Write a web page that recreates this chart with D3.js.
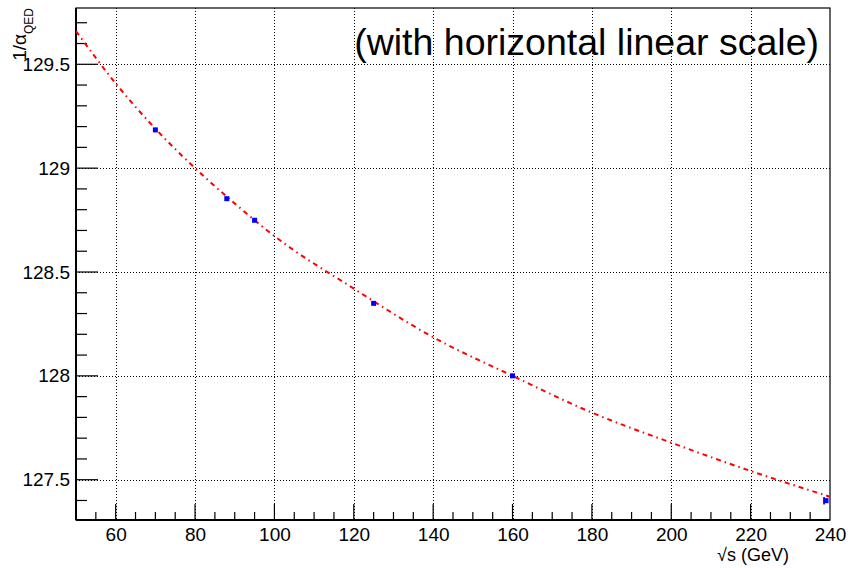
<!DOCTYPE html>
<html>
<head>
<meta charset="utf-8">
<script src="https://cdn.jsdelivr.net/npm/d3@7"></script>
<style>
  body { margin: 0; background: #fff; }
  text { font-family: "Liberation Sans", Arial, sans-serif; }
</style>
</head>
<body>
<script>
// measured points
var energies = [70, 88, 95, 125, 160, 239];
var invAlpha = [129.184, 128.853, 128.749, 128.349, 128.0, 127.399];
var invAlphaErr = [0, 0, 0, 0, 0, 0.018];

// fit curve
var fitX = [50, 60, 70, 80, 90, 100, 120, 140, 160, 180, 200, 220, 240];
var fitY = [129.66, 129.408, 129.19, 129.0, 128.83, 128.673, 128.42, 128.186, 128.0, 127.823, 127.678, 127.542, 127.418];

var xTicks = [60, 80, 100, 120, 140, 160, 180, 200, 220, 240];
var yTicks = [127.5, 128, 128.5, 129, 129.5];
var yTickLabels = ["127.5", "128", "128.5", "129", "129.5"];

var width = 848, height = 568;
var frame = { left: 76, right: 830, top: 8, bottom: 520 };

var x = d3.scaleLinear().domain([50, 240]).range([frame.left, frame.right]);
var y = d3.scaleLinear().domain([127.306, 129.771]).range([frame.bottom, frame.top]);

var svg = d3.select("body").append("svg")
    .attr("width", width)
    .attr("height", height);

svg.append("defs").append("clipPath").attr("id", "clip")
  .append("rect")
    .attr("x", frame.left).attr("y", frame.top)
    .attr("width", frame.right - frame.left)
    .attr("height", frame.bottom - frame.top);

// grid
var grid = svg.append("g")
    .attr("stroke", "#000")
    .attr("stroke-width", 1)
    .attr("stroke-dasharray", "1,2");
grid.selectAll("line.gx")
    .data(xTicks.filter(function(d) { return d < 240; }))
  .enter().append("line")
    .attr("x1", function(d) { return Math.round(x(d)) + 0.5; })
    .attr("x2", function(d) { return Math.round(x(d)) + 0.5; })
    .attr("y1", frame.top)
    .attr("y2", frame.bottom);
grid.selectAll("line.gy")
    .data(yTicks)
  .enter().append("line")
    .attr("y1", function(d) { return Math.round(y(d)) + 0.5; })
    .attr("y2", function(d) { return Math.round(y(d)) + 0.5; })
    .attr("x1", frame.left)
    .attr("x2", frame.right);

// frame
svg.append("rect")
    .attr("x", frame.left).attr("y", frame.top)
    .attr("width", frame.right - frame.left)
    .attr("height", frame.bottom - frame.top)
    .attr("fill", "none")
    .attr("stroke", "#000")
    .attr("stroke-width", 1.2);

// x axis
var xAxis = d3.axisBottom(x)
    .tickValues(xTicks)
    .tickSize(0)
    .tickPadding(8)
    .tickFormat(d3.format("d"));
var gx = svg.append("g")
    .attr("transform", "translate(0," + frame.bottom + ")")
    .call(xAxis);
gx.select(".domain").attr("stroke-width", 2).attr("d", "M" + frame.left + ",0H" + frame.right);
gx.selectAll("text").attr("font-size", 19).attr("fill", "#000")
    .attr("font-family", "Liberation Sans, Arial, sans-serif");

var xMinor = d3.range(55, 240, 5);
svg.append("g").selectAll("line")
    .data(xMinor)
  .enter().append("line")
    .attr("x1", function(d) { return x(d); })
    .attr("x2", function(d) { return x(d); })
    .attr("y1", frame.bottom)
    .attr("y2", function(d) { return frame.bottom - (d % 20 === 0 ? 16 : 8); })
    .attr("stroke", "#000")
    .attr("stroke-width", 1.2);

// y axis
var yAxis = d3.axisLeft(y)
    .tickValues(yTicks)
    .tickSize(0)
    .tickPadding(6)
    .tickFormat(function(d, i) { return yTickLabels[i]; });
var gy = svg.append("g")
    .attr("transform", "translate(" + frame.left + ",0)")
    .call(yAxis);
gy.select(".domain").attr("stroke-width", 2).attr("d", "M0," + frame.top + "V" + frame.bottom);
gy.selectAll("text").attr("font-size", 19).attr("fill", "#000")
    .attr("font-family", "Liberation Sans, Arial, sans-serif");

var yMinor = d3.range(127.4, 129.75, 0.1);
svg.append("g").selectAll("line")
    .data(yMinor)
  .enter().append("line")
    .attr("y1", function(d) { return y(d); })
    .attr("y2", function(d) { return y(d); })
    .attr("x1", frame.left)
    .attr("x2", function(d) {
      var major = Math.abs(d * 2 - Math.round(d * 2)) < 1e-6;
      return frame.left + (major ? 22 : 11);
    })
    .attr("stroke", "#000")
    .attr("stroke-width", 1.2);

// fit curve
var line = d3.line()
    .x(function(d) { return x(d[0]); })
    .y(function(d) { return y(d[1]); })
    .curve(d3.curveMonotoneX);
svg.append("path")
    .datum(fitX.map(function(d, i) { return [d, fitY[i]]; }))
    .attr("clip-path", "url(#clip)")
    .attr("d", line)
    .attr("fill", "none")
    .attr("stroke", "#ff0000")
    .attr("stroke-width", 2)
    .attr("stroke-dasharray", "5,4,1.5,4");

// points
var pts = energies.map(function(d, i) { return { e: d, v: invAlpha[i], err: invAlphaErr[i] }; });
svg.append("g").selectAll("line")
    .data(pts.filter(function(d) { return d.err > 0; }))
  .enter().append("line")
    .attr("x1", function(d) { return x(d.e) - 2; })
    .attr("x2", function(d) { return x(d.e) - 2; })
    .attr("y1", function(d) { return y(d.v - d.err); })
    .attr("y2", function(d) { return y(d.v + d.err); })
    .attr("stroke", "#000")
    .attr("stroke-width", 1.5);
svg.append("g").selectAll("rect")
    .data(pts)
  .enter().append("rect")
    .attr("x", function(d) { return x(d.e) - 2.5; })
    .attr("y", function(d) { return y(d.v) - 2.5; })
    .attr("width", 5)
    .attr("height", 5)
    .attr("fill", "#0000ff");

// labels
svg.append("text")
    .attr("x", 819)
    .attr("y", 55)
    .attr("text-anchor", "end")
    .attr("font-size", 37.5)
    .attr("fill", "#000")
    .text("(with horizontal linear scale)");

svg.append("text")
    .attr("x", 789)
    .attr("y", 561)
    .attr("text-anchor", "end")
    .attr("font-size", 18)
    .attr("fill", "#000")
    .text("\u221As (GeV)");

var ylab = svg.append("text")
    .attr("transform", "translate(26,8) rotate(-90)")
    .attr("text-anchor", "end")
    .attr("font-size", 19)
    .attr("fill", "#000");
ylab.append("tspan").text("1/\u03B1");
ylab.append("tspan").attr("font-size", 12).attr("dy", 7).text("QED");
</script>
</body>
</html>
